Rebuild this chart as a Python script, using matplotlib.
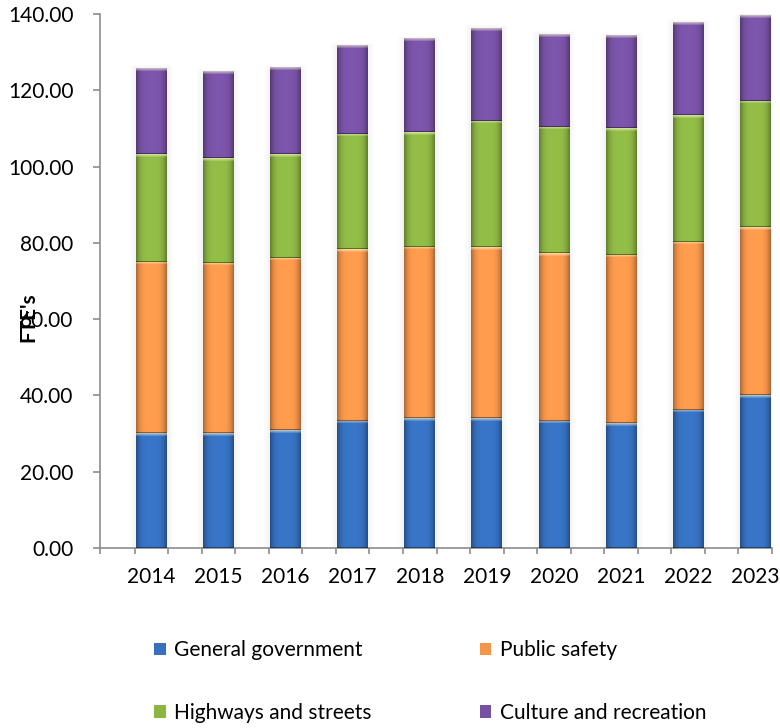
import numpy as np
import matplotlib
matplotlib.use("Agg")
import matplotlib.pyplot as plt
from matplotlib.patches import Patch, Rectangle
from matplotlib.colors import to_rgb

plt.rcParams['font.family'] = ['Lato', 'DejaVu Sans']

years = ['2014', '2015', '2016', '2017', '2018', '2019', '2020', '2021', '2022', '2023']
general_government = [30.1, 30.1, 30.9, 33.3, 34.0, 34.0, 33.3, 32.7, 36.2, 40.1]
public_safety = [45.0, 44.7, 45.1, 45.0, 45.0, 44.8, 44.0, 44.1, 44.1, 44.0]
highways_streets = [28.2, 27.4, 27.2, 30.2, 30.0, 33.2, 33.2, 33.2, 33.2, 33.1]
culture_recreation = [22.5, 22.7, 22.6, 23.2, 24.4, 24.3, 24.2, 24.2, 24.3, 22.5]

series = [general_government, public_safety, highways_streets, culture_recreation]
names = ['General government', 'Public safety', 'Highways and streets', 'Culture and recreation']
colors = ['#3670bf', '#f5954a', '#8cb543', '#7751a4']


def shaded(color, ny=60, nx=40, top_band=3):
    # horizontal cylinder shading with a light band on top
    c = np.array(to_rgb(color))
    x = np.linspace(-1, 1, nx)
    prof = 1.05 - 0.35 * np.abs(x) ** 4
    img = np.clip(c[None, None, :] * prof[None, :, None] * np.ones((ny, 1, 1)), 0, 1)
    for k in range(top_band):
        w = 0.55 * (1 - k / top_band)
        img[k] = img[k] * (1 - w) + w * np.array([1.0, 1.0, 0.85])
    img[-1] = img[-1] * 0.6
    return img


fig = plt.figure(figsize=(7.8, 7.28), dpi=100)
ax = fig.add_axes([100 / 780, 1 - 548 / 728, 672 / 780, 534 / 728])

x = np.arange(len(years))
width = 0.46
bottom = np.zeros(len(years))
for vals, col in zip(series, colors):
    vals = np.array(vals)
    bars = ax.bar(x, vals, width, bottom=bottom, color=col, zorder=2)
    for b in bars:
        x0, y0 = b.get_x(), b.get_y()
        h = b.get_height()
        ny = max(int(h * 3.8), 4)
        ax.imshow(shaded(col, ny=ny), extent=(x0, x0 + width, y0, y0 + h),
                  aspect='auto', interpolation='bilinear', zorder=3, clip_on=True)
    bottom += vals

# soft glow behind each bar
for xi, tot in zip(x, bottom):
    for k, a in enumerate([0.05, 0.04, 0.03]):
        pad = 0.03 * (k + 1)
        ax.add_patch(Rectangle((xi - width / 2 - pad, 0), width + 2 * pad, min(tot + pad * 8, 141),
                               color='#b0b0b0', alpha=a, lw=0, zorder=1))

ax.set_xlim(-0.767, 9.25)
ax.set_ylim(0, 140)
ax.set_yticks(np.arange(0, 141, 20))
ax.set_yticklabels(['%.2f' % v for v in np.arange(0, 141, 20)])
ax.set_xticks(x)
ax.set_xticklabels(years)
ax.set_xticks(np.concatenate([x - 0.25, x + 0.25, [-0.767]]), minor=True)

for s in ['top', 'right']:
    ax.spines[s].set_visible(False)
for s in ['left', 'bottom']:
    ax.spines[s].set_color('#8c8c8c')
    ax.spines[s].set_linewidth(1.2)

ax.tick_params(axis='y', length=5, width=1.2, color='#8c8c8c', pad=14, labelsize=15)
ax.tick_params(axis='x', which='major', length=0, pad=14, labelsize=15)
ax.tick_params(axis='x', which='minor', length=4, width=1.2, color='#8c8c8c')

fig.text(28 / 780, 1 - 317 / 728, "FTE's", rotation=90, fontsize=15, fontweight='bold',
         ha='center', va='center')

# legend fills column by column, so interleave to get rows GG/PS, HS/CR
order = [0, 2, 1, 3]
handles = [Patch(facecolor=colors[i], edgecolor='none') for i in order]
labels = [names[i] for i in order]
fig.legend(handles, labels, ncol=2, loc='upper left', bbox_to_anchor=(146 / 780, 1 - 632 / 728),
           frameon=False, fontsize=15, handlelength=0.55, handleheight=0.55,
           handletextpad=0.4, labelspacing=2.05, columnspacing=5.2, borderaxespad=0)

fig.savefig('out.png', dpi=100)
